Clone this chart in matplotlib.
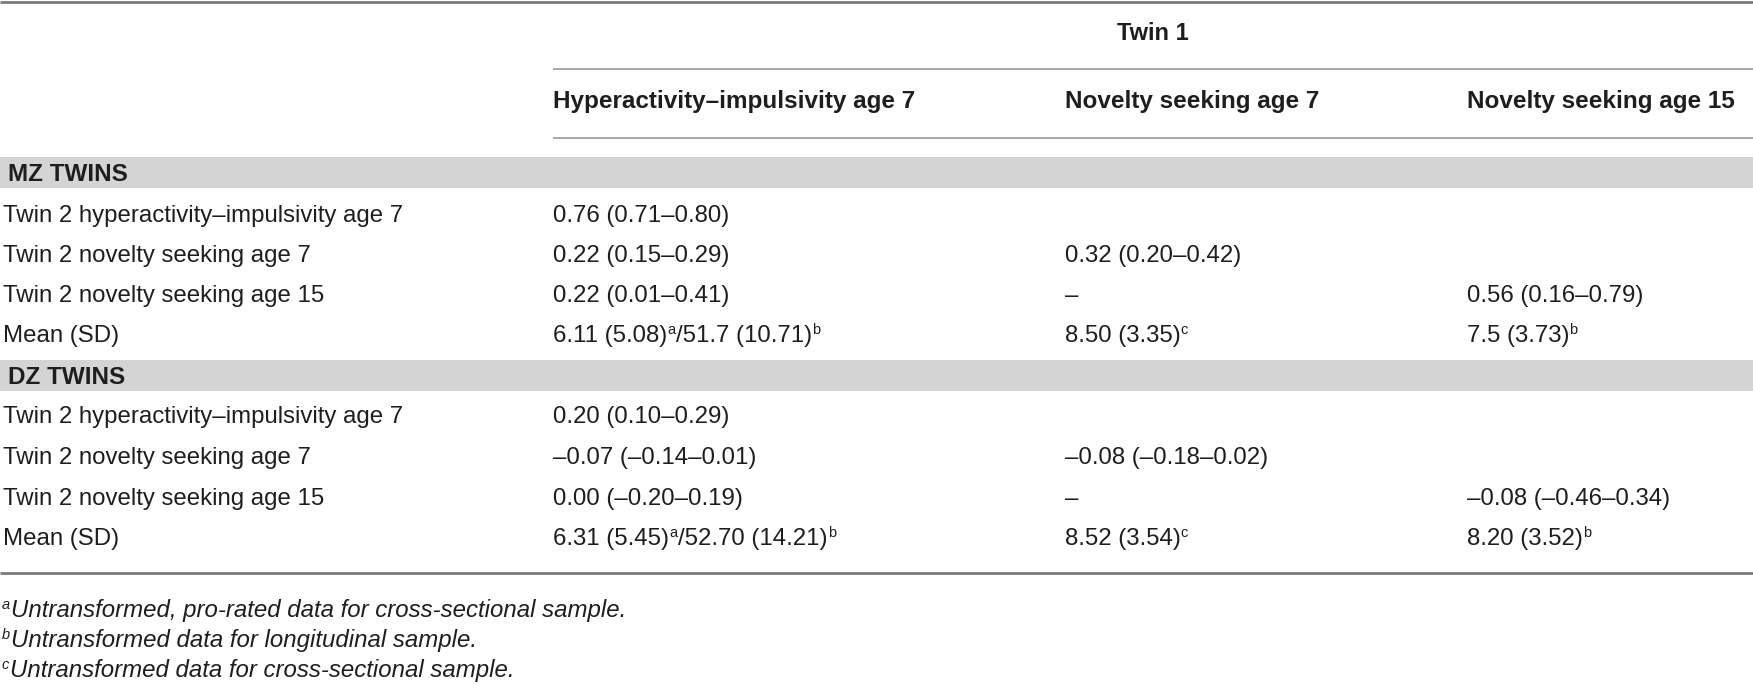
import re
import matplotlib
matplotlib.use("Agg")
import matplotlib.pyplot as plt

plt.rcParams['font.family'] = ['Liberation Sans', 'DejaVu Sans']

# table content
header_top = "Twin 1"
col_headers = ["Hyperactivity–impulsivity age 7", "Novelty seeking age 7", "Novelty seeking age 15"]
groups = ["MZ TWINS", "DZ TWINS"]
row_labels = ["Twin 2 hyperactivity–impulsivity age 7",
              "Twin 2 novelty seeking age 7",
              "Twin 2 novelty seeking age 15",
              "Mean (SD)"]

# "^x" marks a superscript letter
mz_hi7 = ["0.76 (0.71–0.80)", "0.22 (0.15–0.29)", "0.22 (0.01–0.41)", "6.11 (5.08)^a/51.7 (10.71)^b"]
mz_ns7 = ["", "0.32 (0.20–0.42)", "–", "8.50 (3.35)^c"]
mz_ns15 = ["", "", "0.56 (0.16–0.79)", "7.5 (3.73)^b"]
dz_hi7 = ["0.20 (0.10–0.29)", "–0.07 (–0.14–0.01)", "0.00 (–0.20–0.19)", "6.31 (5.45)^a/52.70 (14.21)^b"]
dz_ns7 = ["", "–0.08 (–0.18–0.02)", "–", "8.52 (3.54)^c"]
dz_ns15 = ["", "", "–0.08 (–0.46–0.34)", "8.20 (3.52)^b"]

footnotes = ["^aUntransformed, pro-rated data for cross-sectional sample.",
             "^bUntransformed data for longitudinal sample.",
             "^cUntransformed data for cross-sectional sample."]

W, H = 1753, 684
fig = plt.figure(figsize=(W / 100, H / 100), dpi=100)
ax = fig.add_axes([0, 0, 1, 1])
ax.set_xlim(0, W)
ax.set_ylim(H, 0)
ax.axis('off')
renderer = fig.canvas.get_renderer()

TXT = '#1e1e1e'
BODY = 17.3
HEAD = 17.5


def rich(x, y, s, size=BODY, weight='normal', style='normal', sup_size=10.5, raise_px=8):
    parts = re.split(r'\^(\w)', s)
    for i, p in enumerate(parts):
        if not p:
            continue
        if i % 2 == 0:
            t = ax.text(x, y, p, fontsize=size, fontweight=weight, fontstyle=style,
                        color=TXT, va='baseline', ha='left')
        else:
            t = ax.text(x, y - raise_px, p, fontsize=sup_size, fontstyle=style,
                        color=TXT, va='baseline', ha='left')
        x += t.get_window_extent(renderer).width + (1 if i % 2 else 0)


col_x = [3, 553, 1065, 1467]

# rules
ax.plot([0, W], [1.5, 1.5], color='#7a7a7a', lw=2.0, solid_capstyle='butt')
ax.plot([col_x[1], W], [69, 69], color='#9a9a9a', lw=1.2, solid_capstyle='butt')
ax.plot([col_x[1], W], [137.5, 137.5], color='#9a9a9a', lw=1.2, solid_capstyle='butt')
ax.plot([0, W], [573, 573], color='#7a7a7a', lw=2.0, solid_capstyle='butt')

# header
ax.text((col_x[1] + W) / 2, 40, header_top, fontsize=17, fontweight='bold',
        color=TXT, ha='center', va='baseline')
for cx, h in zip(col_x[1:], col_headers):
    ax.text(cx, 108, h, fontsize=HEAD, fontweight='bold', color=TXT, ha='left', va='baseline')

# group bands and rows
band_tops = [157, 360]
row_bases = [[222, 262, 302, 342], [423, 464, 505, 545]]
group_cols = [(mz_hi7, mz_ns7, mz_ns15), (dz_hi7, dz_ns7, dz_ns15)]
for g, top, bases, cols in zip(groups, band_tops, row_bases, group_cols):
    ax.axhspan(top, top + 30.5, color='#d4d4d4', lw=0)
    ax.text(8, top + 24, g, fontsize=17.5, fontweight='bold', color=TXT,
            ha='left', va='baseline')
    for r, (lab, yb) in enumerate(zip(row_labels, bases)):
        ax.text(col_x[0], yb, lab, fontsize=BODY, color=TXT, ha='left', va='baseline')
        for cx, vals in zip(col_x[1:], cols):
            if vals[r]:
                rich(cx, yb, vals[r])

# footnotes
for fy, fn in zip([617, 647, 677], footnotes):
    rich(2, fy, fn, style='italic', sup_size=10.5, raise_px=8)

fig.savefig('out.png', dpi=100, facecolor='white')
